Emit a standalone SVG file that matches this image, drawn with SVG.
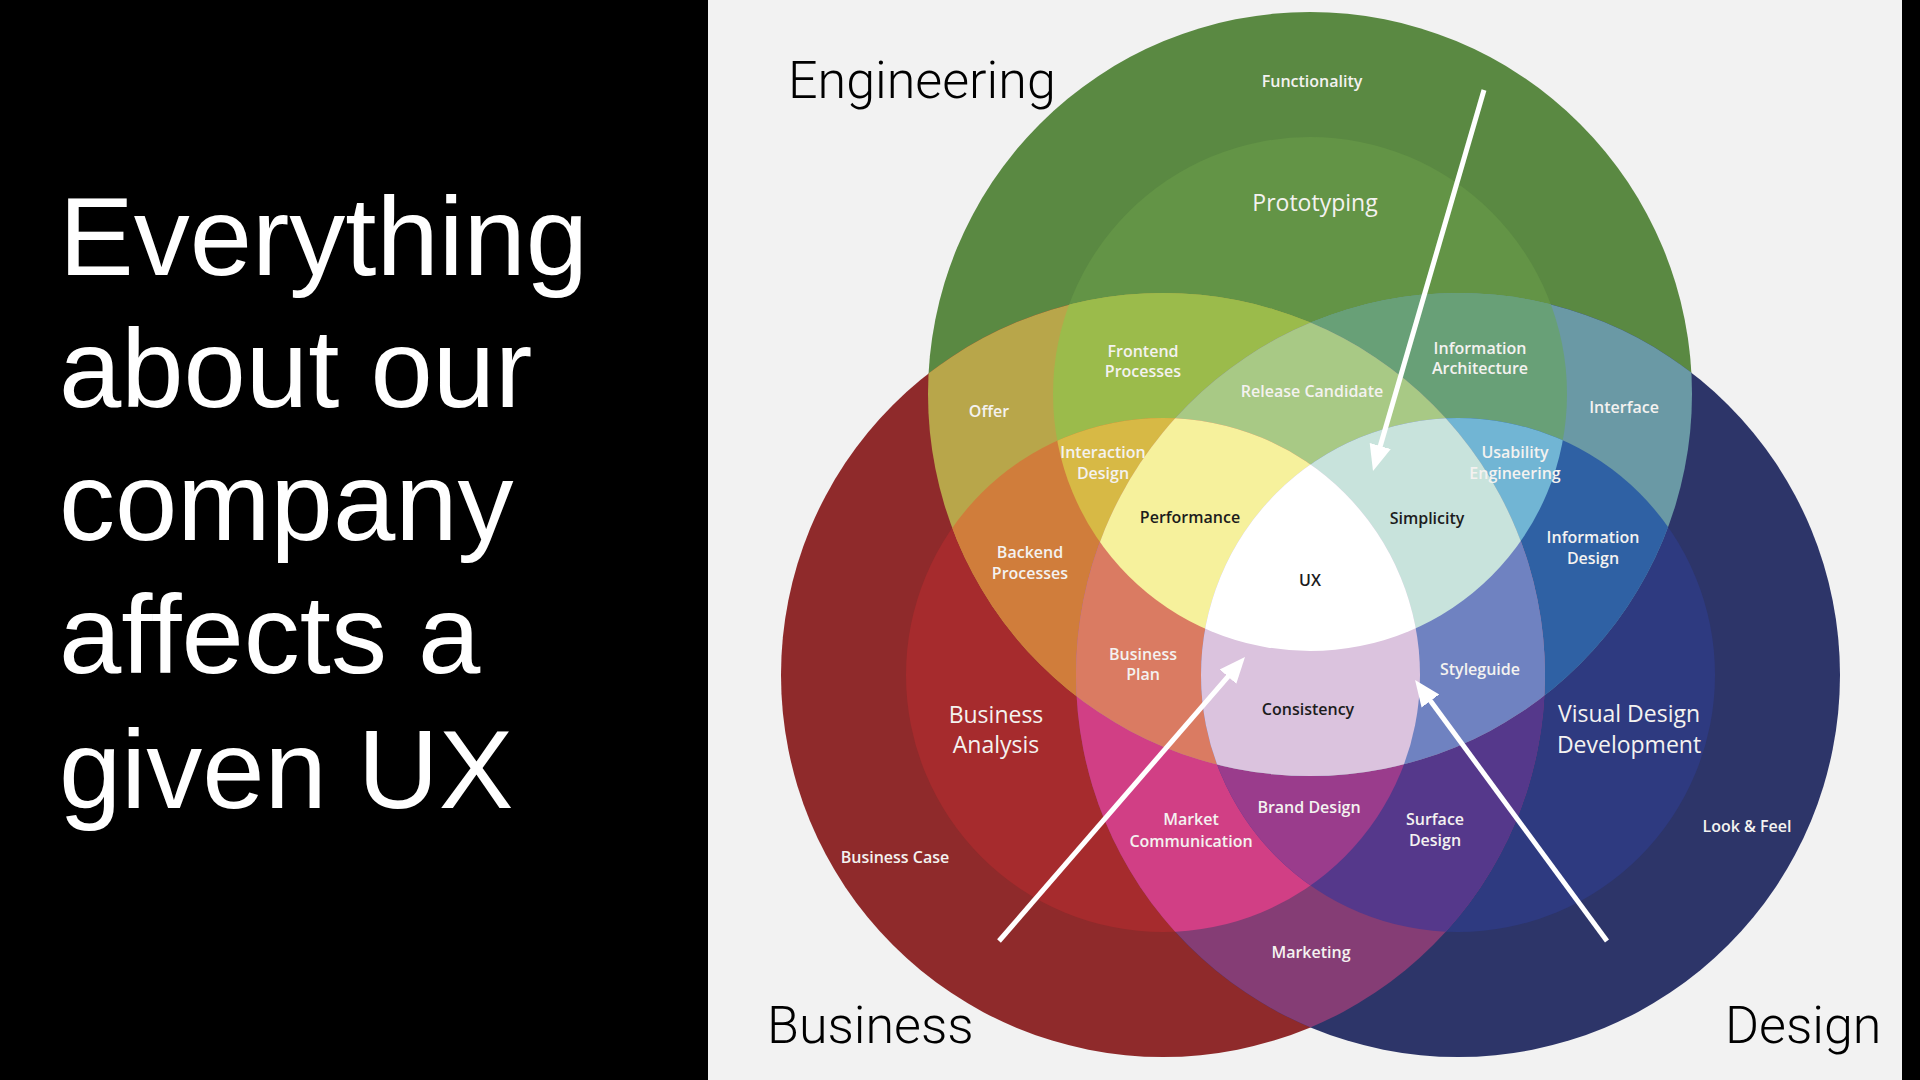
<svg xmlns="http://www.w3.org/2000/svg" xmlns:xlink="http://www.w3.org/1999/xlink" width="1920" height="1080" viewBox="0 0 1920 1080">
  <style>
    .title { font-family: "Liberation Sans", Arial, sans-serif; font-size: 112px; fill: #ffffff; }
    .disc { font-family: Roboto, "Liberation Sans", sans-serif; font-weight: 300; font-size: 52px; fill: #000000; }
    .lbl { font-family: "Open Sans", "Noto Sans", sans-serif; font-weight: 600; font-size: 16px; fill: #f4f2f0; text-anchor: middle; }
    .big { font-family: "Open Sans", "Noto Sans", sans-serif; font-weight: 500; font-size: 23px; fill: #f4f2f0; text-anchor: middle; }
    .dark { fill: #1c1c1c; }
    .arrow { stroke: #ffffff; stroke-width: 5; fill: none; marker-end: url(#ah); }
  </style>
  <defs>
    <circle id="Go" cx="1310" cy="394" r="382"/>
    <circle id="Gi" cx="1310" cy="394" r="257"/>
    <circle id="Ro" cx="1163" cy="675" r="382"/>
    <circle id="Ri" cx="1163" cy="675" r="257"/>
    <circle id="Bo" cx="1458" cy="675" r="382"/>
    <circle id="Bi" cx="1458" cy="675" r="257"/>
    <clipPath id="cGo"><circle cx="1310" cy="394" r="382"/></clipPath>
    <clipPath id="cGi"><circle cx="1310" cy="394" r="257"/></clipPath>
    <clipPath id="cRo"><circle cx="1163" cy="675" r="382"/></clipPath>
    <clipPath id="cRi"><circle cx="1163" cy="675" r="257"/></clipPath>
    <clipPath id="cBo"><circle cx="1458" cy="675" r="382"/></clipPath>
    <clipPath id="cBi"><circle cx="1458" cy="675" r="257"/></clipPath>
    <marker id="ah" markerUnits="userSpaceOnUse" markerWidth="28" markerHeight="24" refX="6" refY="12" orient="auto">
      <path d="M0,1 L26,12 L0,23 Z" fill="#ffffff"/>
    </marker>
  </defs>

  <!-- panels -->
  <rect x="0" y="0" width="1920" height="1080" fill="#000000"/>
  <rect x="708" y="0" width="1194" height="1080" fill="#f2f2f2"/>

  <!-- Venn regions, painted from least to most specific -->
  <g id="venn">
    <!-- sum 1 -->
    <use xlink:href="#Go" fill="#5a8942"/>
    <use xlink:href="#Ro" fill="#8f2a2b"/>
    <use xlink:href="#Bo" fill="#2d3569"/>
    <!-- sum 2 -->
    <use xlink:href="#Gi" fill="#639446"/>
    <use xlink:href="#Ri" fill="#a62b2d"/>
    <use xlink:href="#Bi" fill="#2e3a80"/>
    <g clip-path="url(#cGo)"><use xlink:href="#Ro" fill="#b8a64a"/></g>
    <g clip-path="url(#cGo)"><use xlink:href="#Bo" fill="#6a99a5"/></g>
    <g clip-path="url(#cRo)"><use xlink:href="#Bo" fill="#853d75"/></g>
    <!-- sum 3 -->
    <g clip-path="url(#cGi)"><use xlink:href="#Ro" fill="#9bbb4b"/></g>
    <g clip-path="url(#cGi)"><use xlink:href="#Bo" fill="#68a077"/></g>
    <g clip-path="url(#cGo)"><use xlink:href="#Ri" fill="#d07d3b"/></g>
    <g clip-path="url(#cRi)"><use xlink:href="#Bo" fill="#d13f85"/></g>
    <g clip-path="url(#cGo)"><use xlink:href="#Bi" fill="#2f61a4"/></g>
    <g clip-path="url(#cRo)"><use xlink:href="#Bi" fill="#55388b"/></g>
    <g clip-path="url(#cGo)"><g clip-path="url(#cRo)"><use xlink:href="#Bo" fill="#a0889a"/></g></g>
    <!-- sum 4 -->
    <g clip-path="url(#cGi)"><use xlink:href="#Ri" fill="#d7b945"/></g>
    <g clip-path="url(#cGi)"><use xlink:href="#Bi" fill="#71b5d4"/></g>
    <g clip-path="url(#cRi)"><use xlink:href="#Bi" fill="#9a3c8c"/></g>
    <g clip-path="url(#cGi)"><g clip-path="url(#cRo)"><use xlink:href="#Bo" fill="#a8c985"/></g></g>
    <g clip-path="url(#cGo)"><g clip-path="url(#cRi)"><use xlink:href="#Bo" fill="#da7b62"/></g></g>
    <g clip-path="url(#cGo)"><g clip-path="url(#cRo)"><use xlink:href="#Bi" fill="#6f82c1"/></g></g>
    <!-- sum 5 -->
    <g clip-path="url(#cGi)"><g clip-path="url(#cRi)"><use xlink:href="#Bo" fill="#f6f19c"/></g></g>
    <g clip-path="url(#cGi)"><g clip-path="url(#cRo)"><use xlink:href="#Bi" fill="#c8e3dc"/></g></g>
    <g clip-path="url(#cGo)"><g clip-path="url(#cRi)"><use xlink:href="#Bi" fill="#dbc3de"/></g></g>
    <!-- sum 6 -->
    <g clip-path="url(#cGi)"><g clip-path="url(#cRi)"><use xlink:href="#Bi" fill="#ffffff"/></g></g>
  </g>

  <!-- title -->
  <g id="title">
    <text class="title" x="59" y="275">Everything</text>
    <text class="title" x="59" y="407">about our</text>
    <text class="title" x="59" y="540">company</text>
    <text class="title" x="59" y="673">affects a</text>
    <text class="title" x="59" y="808">given UX</text>
  </g>

  <!-- discipline names -->
  <g id="engineering"><text class="disc" x="788" y="98">Engineering</text></g>
  <g id="business"><text class="disc" x="767" y="1043">Business</text></g>
  <g id="design"><text class="disc" x="1725" y="1043">Design</text></g>

  <!-- region labels -->
  <g id="functionality"><text class="lbl" x="1312" y="87">Functionality</text></g>
  <g id="prototyping"><text class="big" x="1315" y="211">Prototyping</text></g>
  <g id="frontend-processes"><text class="lbl" x="1143" y="357">Frontend</text><text class="lbl" x="1143" y="377">Processes</text></g>
  <g id="information-architecture"><text class="lbl" x="1480" y="354">Information</text><text class="lbl" x="1480" y="374">Architecture</text></g>
  <g id="release-candidate"><text class="lbl" x="1312" y="397">Release Candidate</text></g>
  <g id="offer"><text class="lbl" x="989" y="417">Offer</text></g>
  <g id="interface"><text class="lbl" x="1624" y="413">Interface</text></g>
  <g id="interaction-design"><text class="lbl" x="1103" y="458">Interaction</text><text class="lbl" x="1103" y="479">Design</text></g>
  <g id="usability-engineering"><text class="lbl" x="1515" y="458">Usability</text><text class="lbl" x="1515" y="479">Engineering</text></g>
  <g id="performance"><text class="lbl dark" x="1190" y="523">Performance</text></g>
  <g id="simplicity"><text class="lbl dark" x="1427" y="524">Simplicity</text></g>
  <g id="backend-processes"><text class="lbl" x="1030" y="558">Backend</text><text class="lbl" x="1030" y="579">Processes</text></g>
  <g id="information-design"><text class="lbl" x="1593" y="543">Information</text><text class="lbl" x="1593" y="564">Design</text></g>
  <g id="ux"><text class="lbl dark" x="1310" y="586">UX</text></g>
  <g id="business-plan"><text class="lbl" x="1143" y="660">Business</text><text class="lbl" x="1143" y="680">Plan</text></g>
  <g id="styleguide"><text class="lbl" x="1480" y="675">Styleguide</text></g>
  <g id="business-analysis"><text class="big" x="996" y="723">Business</text><text class="big" x="996" y="753">Analysis</text></g>
  <g id="consistency"><text class="lbl dark" x="1308" y="715">Consistency</text></g>
  <g id="visual-design-development"><text class="big" x="1629" y="722">Visual Design</text><text class="big" x="1629" y="753">Development</text></g>
  <g id="brand-design"><text class="lbl" x="1309" y="813">Brand Design</text></g>
  <g id="market-communication"><text class="lbl" x="1191" y="825">Market</text><text class="lbl" x="1191" y="847">Communication</text></g>
  <g id="surface-design"><text class="lbl" x="1435" y="825">Surface</text><text class="lbl" x="1435" y="846">Design</text></g>
  <g id="look-feel"><text class="lbl" x="1747" y="832">Look &amp; Feel</text></g>
  <g id="business-case"><text class="lbl" x="895" y="863">Business Case</text></g>
  <g id="marketing"><text class="lbl" x="1311" y="958">Marketing</text></g>

  <!-- connectors -->
  <g id="connectors">
    <line class="arrow" x1="1484" y1="90" x2="1378.6" y2="451.8"/>
    <line class="arrow" x1="999" y1="941" x2="1231.9" y2="672.1"/>
    <line class="arrow" x1="1607" y1="941" x2="1426.9" y2="696.1"/>
  </g>
</svg>
